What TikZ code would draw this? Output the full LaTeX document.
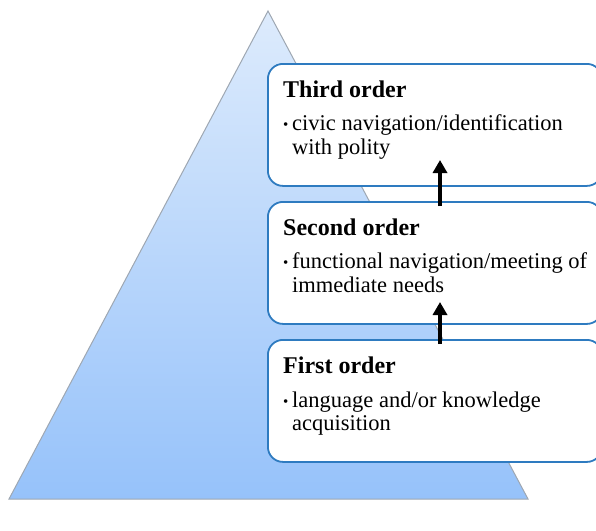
\documentclass[tikz,border=0pt]{standalone}
\usepackage{fontspec}
\setmainfont{Liberation Serif}
\usetikzlibrary{arrows.meta}
\definecolor{pyrtop}{HTML}{DDEBFC}
\definecolor{pyrbot}{HTML}{96C2FA}
\definecolor{pyredge}{HTML}{9EA7B2}
\definecolor{boxedge}{HTML}{2E7BC0}
\tikzset{
  orderbox/.style={draw=boxedge, line width=1.8pt, fill=white, rounded corners=15pt,
    minimum width=334pt, minimum height=122pt, anchor=north west, inner sep=0pt},
  ordertitle/.style={anchor=base west, inner sep=0pt, font=\fontsize{24}{25}\selectfont\bfseries},
  orderline/.style={anchor=base west, inner sep=0pt, font=\fontsize{22.5}{24}\selectfont},
  orderbullet/.style={anchor=base west, inner sep=0pt, font=\fontsize{15}{16}\selectfont},
  uparrow/.style={line width=4.6pt, -{Triangle[width=14pt,length=13pt]}}
}
\begin{document}
\begin{tikzpicture}[x=1pt,y=-1pt]
\useasboundingbox (0,0) rectangle (596,530);
\clip (0,0) rectangle (596,530);
% pyramid
\shade[top color=pyrtop, bottom color=pyrbot, draw=pyredge, line width=1pt]
  (268,11) -- (528,499) -- (9,499) -- cycle;
% three levels
\node[orderbox] (third) at (267,63) {};
\node[orderbox] (second) at (267,201) {};
\node[orderbox] (first) at (267,339) {};
% third order text
\node[ordertitle] (t3) at (283,97) {Third order};
\node[orderbullet] (b3) at (283,129) {•};
\node[orderline] (l3a) at (292,130) {civic navigation/identification};
\node[orderline] (l3b) at (292,154) {with polity};
% second order text
\node[ordertitle] (t2) at (283,235) {Second order};
\node[orderbullet] (b2) at (283,267) {•};
\node[orderline] (l2a) at (292,268) {functional navigation/meeting of};
\node[orderline] (l2b) at (292,292) {immediate needs};
% first order text
\node[ordertitle] (t1) at (283,373) {First order};
\node[orderbullet] (b1) at (283,406) {•};
\node[orderline] (l1a) at (292,407) {language and/or knowledge};
\node[orderline] (l1b) at (292,430) {acquisition};
% arrows between levels
\coordinate (a1s) at (440,206);
\coordinate (a1e) at (440,160);
\coordinate (a2s) at (440,344);
\coordinate (a2e) at (440,302);
\draw[uparrow] (a1s) -- (a1e);
\draw[uparrow] (a2s) -- (a2e);
\end{tikzpicture}
\end{document}
